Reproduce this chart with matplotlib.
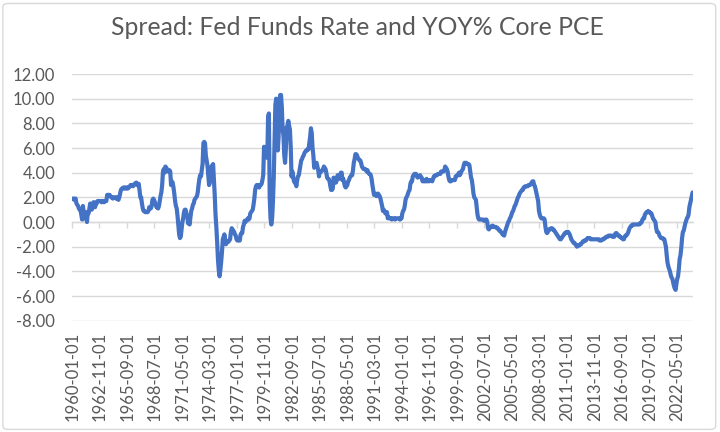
import numpy as np
import matplotlib
matplotlib.use("Agg")
import matplotlib.pyplot as plt
from matplotlib.patches import FancyBboxPatch

# spread = fed funds rate minus yoy% core PCE, monthly
spread_1960s = [
    1.9, 1.9, 1.8, 1.9, 1.9, 1.5, 1.4, 1.3, 1.1, 1.0, 1.0, 0.6,
    0.2, 1.3, 0.8, 0.3, 0.8, 0.6, 0.0, 0.8, 0.7, 1.1, 1.5, 1.2,
    1.0, 1.2, 1.6, 1.6, 1.2, 1.5, 1.5, 1.7, 1.7, 1.7, 1.7, 1.7,
    1.6, 1.7, 1.7, 1.6, 1.7, 1.7, 1.7, 2.2, 2.2, 2.2, 2.2, 2.1,
    2.0, 2.0, 1.9, 2.0, 2.0, 2.0, 1.9, 2.0, 1.9, 1.8, 2.0, 2.3,
    2.6, 2.7, 2.7, 2.8, 2.8, 2.7, 2.8, 2.8, 2.7, 2.8, 2.8, 2.9,
    3.0, 3.0, 3.0, 2.9, 3.0, 3.1, 3.1, 3.2, 3.0, 3.0, 3.1, 2.6,
    2.0, 2.0, 1.5, 1.1, 0.9, 0.9, 0.8, 0.8, 0.8, 0.8, 0.9, 1.2,
    1.1, 1.1, 1.3, 1.8, 1.9, 1.8, 1.6, 1.4, 1.2, 1.2, 1.1, 1.3,
    1.7, 2.1, 2.4, 3.0, 4.1, 4.3, 4.0, 4.5, 4.4, 4.3, 4.1, 4.2,
]
spread_1970s = [
    4.2, 4.1, 3.0, 3.3, 3.2, 2.8, 2.3, 1.7, 1.3, 1.1, 0.5, -0.3,
    -1.0, -1.3, -1.2, -0.6, 0.0, 0.3, 0.8, 1.0, 1.0, 0.7, 0.5, -0.1,
    -0.1, -0.2, 0.4, 0.9, 1.1, 1.4, 1.5, 1.8, 1.9, 2.0, 2.1, 2.4,
    3.0, 3.5, 3.8, 3.7, 4.2, 4.7, 6.4, 6.5, 6.4, 5.4, 5.0, 4.6,
    3.8, 3.0, 3.2, 4.0, 4.5, 4.6, 4.7, 3.4, 2.2, 0.6, -0.4, -1.6,
    -3.0, -3.9, -4.4, -3.9, -3.2, -2.4, -1.4, -1.2, -1.0, -1.4, -1.8, -1.6,
    -1.6, -1.6, -1.5, -1.4, -0.8, -0.5, -0.6, -0.7, -0.8, -1.0, -1.1, -1.4,
    -1.5, -1.5, -1.5, -1.5, -1.0, -0.9, -0.9, -0.4, -0.2, 0.1, 0.0, 0.1,
    0.2, 0.3, 0.2, 0.3, 0.7, 0.8, 0.9, 1.0, 1.4, 1.9, 2.6, 2.9,
    3.0, 3.0, 2.9, 2.8, 3.0, 3.0, 3.1, 3.4, 3.8, 6.1, 5.3, 5.8,
]
spread_1980s = [
    5.5, 5.2, 8.5, 8.8, 2.0, 0.3, -0.2, 0.3, 1.6, 3.6, 6.7, 9.5,
    10.0, 7.0, 5.8, 6.9, 9.7, 10.3, 10.3, 9.3, 7.5, 7.0, 5.4, 4.8,
    5.9, 7.7, 7.8, 8.2, 7.8, 7.5, 6.1, 3.7, 4.1, 3.7, 3.3, 3.2,
    3.1, 2.9, 3.4, 3.7, 3.8, 4.2, 4.6, 5.0, 5.1, 5.3, 5.4, 5.6,
    5.7, 5.8, 5.8, 5.9, 5.9, 6.4, 6.9, 7.6, 7.2, 6.0, 5.4, 4.4,
    4.5, 4.7, 4.8, 4.5, 4.2, 3.7, 4.1, 4.1, 4.1, 4.2, 4.3, 4.5,
    4.4, 4.3, 4.0, 3.6, 3.5, 3.5, 3.3, 2.9, 2.6, 2.6, 2.7, 3.6,
    3.5, 3.2, 3.2, 3.4, 3.8, 3.6, 3.5, 3.6, 4.0, 4.0, 3.4, 3.5,
    3.2, 2.9, 2.8, 2.9, 3.0, 3.3, 3.4, 3.6, 3.7, 3.8, 3.8, 4.2,
    4.8, 5.1, 5.5, 5.5, 5.4, 5.2, 5.1, 5.0, 5.0, 4.8, 4.5, 4.4,
]
spread_1990s = [
    4.3, 4.3, 4.3, 4.2, 4.1, 4.2, 4.0, 3.9, 3.9, 3.8, 3.5, 3.0,
    2.6, 2.2, 2.3, 2.2, 2.1, 2.3, 2.3, 2.2, 2.1, 1.9, 1.6, 1.3,
    0.9, 1.0, 0.9, 0.7, 0.8, 0.8, 0.3, 0.4, 0.3, 0.3, 0.3, 0.2,
    0.3, 0.3, 0.3, 0.2, 0.3, 0.3, 0.3, 0.3, 0.3, 0.2, 0.3, 0.3,
    0.7, 0.9, 1.0, 1.3, 1.8, 2.0, 2.1, 2.3, 2.5, 2.6, 3.1, 3.3,
    3.3, 3.7, 3.8, 3.9, 3.9, 3.9, 3.7, 3.6, 3.7, 3.7, 3.8, 3.6,
    3.6, 3.3, 3.4, 3.3, 3.3, 3.3, 3.5, 3.3, 3.4, 3.3, 3.4, 3.4,
    3.4, 3.3, 3.5, 3.7, 3.7, 3.8, 3.8, 3.8, 3.9, 3.9, 3.9, 3.9,
    4.1, 4.1, 4.1, 4.1, 4.2, 4.5, 4.4, 4.3, 4.1, 3.7, 3.4, 3.3,
    3.3, 3.4, 3.4, 3.4, 3.4, 3.4, 3.7, 3.7, 3.8, 3.8, 4.0, 3.8,
]
spread_2000s = [
    3.9, 4.1, 4.2, 4.3, 4.6, 4.8, 4.8, 4.8, 4.7, 4.7, 4.7, 4.6,
    4.1, 3.6, 3.4, 2.9, 2.3, 2.0, 1.9, 1.8, 1.2, 0.6, 0.3, 0.2,
    0.2, 0.2, 0.2, 0.2, 0.2, 0.1, 0.1, 0.2, 0.2, 0.0, -0.5, -0.6,
    -0.5, -0.4, -0.4, -0.3, -0.3, -0.4, -0.4, -0.4, -0.4, -0.5, -0.5, -0.6,
    -0.7, -0.7, -0.8, -0.9, -1.0, -1.0, -1.1, -0.8, -0.6, -0.4, -0.2, 0.0,
    0.1, 0.3, 0.4, 0.6, 0.8, 0.9, 1.1, 1.3, 1.4, 1.6, 1.8, 2.0,
    2.1, 2.3, 2.4, 2.5, 2.6, 2.6, 2.8, 2.8, 2.9, 2.9, 2.9, 2.9,
    3.0, 3.0, 3.0, 3.1, 3.2, 3.3, 3.3, 3.0, 2.9, 2.6, 2.3, 2.0,
    1.7, 0.9, 0.6, 0.4, 0.3, 0.3, 0.3, 0.3, 0.2, -0.4, -0.8, -0.9,
    -0.8, -0.6, -0.6, -0.6, -0.5, -0.5, -0.6, -0.6, -0.7, -0.8, -0.9, -1.0,
]
spread_2010s = [
    -1.1, -1.2, -1.3, -1.4, -1.4, -1.3, -1.2, -1.1, -1.0, -0.9, -0.9, -0.8,
    -0.8, -0.8, -0.9, -1.0, -1.2, -1.4, -1.5, -1.6, -1.7, -1.7, -1.8, -1.9,
    -2.0, -1.9, -1.9, -1.9, -1.8, -1.8, -1.7, -1.6, -1.6, -1.5, -1.5, -1.5,
    -1.4, -1.3, -1.3, -1.3, -1.3, -1.4, -1.4, -1.4, -1.4, -1.4, -1.4, -1.4,
    -1.4, -1.4, -1.4, -1.4, -1.5, -1.5, -1.5, -1.4, -1.4, -1.4, -1.3, -1.3,
    -1.2, -1.2, -1.2, -1.1, -1.1, -1.1, -1.1, -1.1, -1.2, -1.2, -1.2, -1.0,
    -0.9, -0.9, -1.0, -1.1, -1.1, -1.2, -1.2, -1.3, -1.3, -1.4, -1.4, -1.2,
    -1.1, -1.1, -1.0, -0.9, -0.7, -0.5, -0.4, -0.3, -0.3, -0.2, -0.2, -0.2,
    -0.2, -0.2, -0.2, -0.2, -0.2, -0.2, -0.1, -0.1, 0.0, 0.2, 0.3, 0.3,
    0.6, 0.7, 0.8, 0.8, 0.9, 0.8, 0.8, 0.7, 0.7, 0.5, 0.3, 0.2,
]
spread_2020s = [
    0.1, 0.0, -0.5, -0.8, -0.8, -0.9, -1.1, -1.2, -1.3, -1.3, -1.3, -1.4,
    -1.4, -1.7, -2.0, -2.7, -3.3, -3.6, -3.8, -4.0, -4.3, -4.5, -4.6, -4.9,
    -5.2, -5.4, -5.5, -5.0, -4.6, -4.4, -3.8, -3.0, -2.7, -2.1, -1.3, -0.8,
    -0.7, -0.4, -0.1, 0.1, 0.3, 0.4, 0.6, 1.2, 1.5, 1.8, 2.1, 2.4,
]

tick_labels = [
    "1960-01-01", "1962-11-01", "1965-09-01", "1968-07-01", "1971-05-01",
    "1974-03-01", "1977-01-01", "1979-11-01", "1982-09-01", "1985-07-01",
    "1988-05-01", "1991-03-01", "1994-01-01", "1996-11-01", "1999-09-01",
    "2002-07-01", "2005-05-01", "2008-03-01", "2011-01-01", "2013-11-01",
    "2016-09-01", "2019-07-01", "2022-05-01",
]
label_step = 34  # months between labels

spread = np.array(spread_1960s + spread_1970s + spread_1980s + spread_1990s
                  + spread_2000s + spread_2010s + spread_2020s)
x = np.arange(len(spread))

plt.rcParams["font.family"] = ["Lato", "DejaVu Sans"]
grey = "#595959"
gridc = "#d9d9d9"

fig = plt.figure(figsize=(7.2, 4.32), dpi=100)
ax = fig.add_axes([0.1, 0.2576, 0.8625, 0.5711])

ax.plot(x, spread, color="#4472C4", linewidth=3.0, solid_joinstyle="round",
        solid_capstyle="round", zorder=3)

ax.set_ylim(-8, 12)
ax.set_yticks(np.arange(-8, 13, 2))
ax.yaxis.set_major_formatter(matplotlib.ticker.FormatStrFormatter("%.2f"))
ax.tick_params(axis="y", length=0, pad=12, labelsize=12, labelcolor=grey)
ax.grid(axis="y", color=gridc, linewidth=1)
ax.set_axisbelow(True)

ax.set_xlim(-0.5, len(spread) - 0.5)
for s in ["top", "right", "left"]:
    ax.spines[s].set_visible(False)
# horizontal axis line crosses at zero, with small tick marks
ax.spines["bottom"].set_position(("data", 0))
ax.spines["bottom"].set_color(gridc)
ax.spines["bottom"].set_linewidth(1)
tick_pos = np.arange(len(tick_labels)) * label_step
ax.set_xticks(tick_pos - 0.5)
ax.tick_params(axis="x", length=4, width=1, color=gridc, direction="out",
               labelbottom=False)

sec = ax.secondary_xaxis(0.0)
sec.set_xticks(tick_pos)
sec.set_xticklabels(tick_labels, rotation=90)
sec.tick_params(length=0, pad=8, labelsize=12, labelcolor=grey)
sec.spines["bottom"].set_visible(False)

fig.text(0.497, 0.937, "Spread: Fed Funds Rate and YOY% Core PCE",
         ha="center", va="center", fontsize=17.8, color=grey)

border = FancyBboxPatch((0.004, 0.006), 0.99, 0.986,
                        boxstyle="round,pad=0,rounding_size=0.008",
                        transform=fig.transFigure, facecolor="none",
                        edgecolor=gridc, linewidth=1)
fig.patches.append(border)

fig.savefig("out.png", dpi=100)
